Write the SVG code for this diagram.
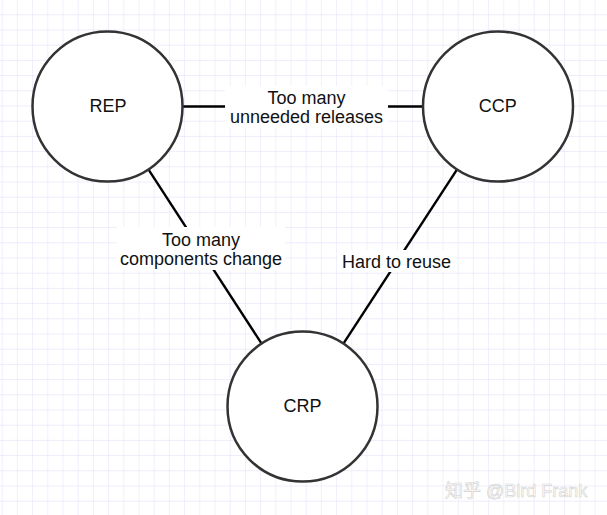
<svg xmlns="http://www.w3.org/2000/svg" width="607" height="515" viewBox="0 0 607 515">
  <defs>
    <pattern id="grid" x="1.7" y="-0.9" width="15.2" height="15.2" patternUnits="userSpaceOnUse">
      <path d="M0 0 V15.2 M0 0 H15.2" fill="none" stroke="#e6e6fb" stroke-width="1.2"/>
    </pattern>
    <style>
      .node { fill: #ffffff; stroke: #333333; stroke-width: 2.5; }
      .edge { stroke: #000000; stroke-width: 2.4; fill: none; }
      .lbl-bg { fill: #ffffff; }
      text { font-family: "Liberation Sans", Arial, sans-serif; font-size: 18px; fill: #111111; text-anchor: middle; }
      .wm { font-size: 18px; fill: #ffffff; stroke: #d2d2d2; stroke-width: 0.6; text-anchor: start; font-family: "Liberation Sans", "Noto Sans CJK SC", sans-serif; }
    </style>
  </defs>
  <rect width="607" height="515" fill="#ffffff"/>
  <rect width="607" height="515" fill="url(#grid)"/>

  <g id="connectors">
    <line class="edge" x1="182.5" y1="106.5" x2="423" y2="106.5"/>
    <line class="edge" x1="148.4" y1="169.4" x2="261.6" y2="343.6"/>
    <line class="edge" x1="457.1" y1="169.4" x2="343.4" y2="343.6"/>
    <g id="label-rep-ccp">
      <rect class="lbl-bg" x="225" y="86" width="163" height="42"/>
      <text x="306.5" y="103.5">Too many</text>
      <text x="306.5" y="122.5">unneeded releases</text>
    </g>
    <g id="label-rep-crp">
      <rect class="lbl-bg" x="117" y="227" width="168" height="43"/>
      <text x="201" y="246">Too many</text>
      <text x="201" y="265">components change</text>
    </g>
    <g id="label-ccp-crp">
      <rect class="lbl-bg" x="338" y="250" width="117" height="22"/>
      <text x="396.5" y="267.5">Hard to reuse</text>
    </g>
  </g>

  <g id="REP">
    <circle class="node" cx="107.5" cy="106.5" r="75"/>
    <text x="108" y="111.7">REP</text>
  </g>
  <g id="CCP">
    <circle class="node" cx="498" cy="106.5" r="75"/>
    <text x="497.7" y="111.7">CCP</text>
  </g>
  <g id="CRP">
    <circle class="node" cx="302.5" cy="406.5" r="75"/>
    <text x="302.5" y="411.7">CRP</text>
  </g>

  <text class="wm" x="445" y="496.5">知乎 @Bird Frank</text>
</svg>
